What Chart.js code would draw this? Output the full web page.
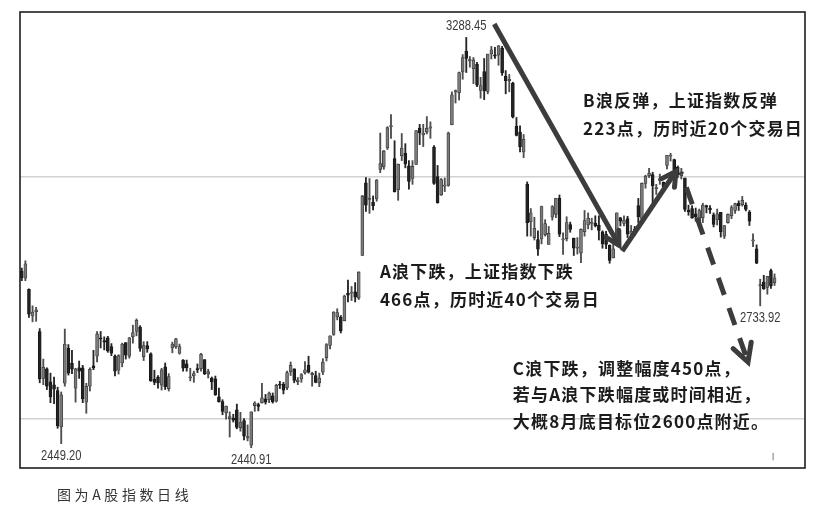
<!DOCTYPE html>
<html>
<head>
<meta charset="utf-8">
<script src="https://cdn.jsdelivr.net/npm/chart.js@4.4.1/dist/chart.umd.min.js"></script>
<style>
html,body{margin:0;padding:0;background:#fff;}
#wrap{position:relative;width:824px;height:516px;overflow:hidden;}
#c{position:absolute;left:0;top:0;}
#caption{position:absolute;left:57px;top:484px;font-family:"Noto Sans CJK SC",sans-serif;font-size:14px;letter-spacing:3.6px;color:#333;line-height:20px;}
</style>
</head>
<body>
<div id="wrap"><canvas id="c" width="824" height="516"></canvas><div id="caption">图为A股指数日线</div></div>
<script>
// ---- data: Shanghai Composite daily candles ----
const dates = [
'2018-09-27','2018-09-28',
'2018-10-08','2018-10-09','2018-10-10','2018-10-11','2018-10-12','2018-10-15','2018-10-16','2018-10-17','2018-10-18','2018-10-19',
'2018-10-22','2018-10-23','2018-10-24','2018-10-25','2018-10-26','2018-10-29','2018-10-30','2018-10-31',
'2018-11-01','2018-11-02','2018-11-05','2018-11-06','2018-11-07','2018-11-08','2018-11-09','2018-11-12','2018-11-13','2018-11-14',
'2018-11-15','2018-11-16','2018-11-19','2018-11-20','2018-11-21','2018-11-22','2018-11-23','2018-11-26','2018-11-27','2018-11-28',
'2018-11-29','2018-11-30',
'2018-12-03','2018-12-04','2018-12-05','2018-12-06','2018-12-07','2018-12-10','2018-12-11','2018-12-12','2018-12-13','2018-12-14',
'2018-12-17','2018-12-18','2018-12-19','2018-12-20','2018-12-21','2018-12-24','2018-12-25','2018-12-26','2018-12-27','2018-12-28',
'2019-01-02','2019-01-03','2019-01-04','2019-01-07','2019-01-08','2019-01-09','2019-01-10','2019-01-11','2019-01-14','2019-01-15',
'2019-01-16','2019-01-17','2019-01-18','2019-01-21','2019-01-22','2019-01-23','2019-01-24','2019-01-25','2019-01-28','2019-01-29',
'2019-01-30','2019-01-31',
'2019-02-01','2019-02-11','2019-02-12','2019-02-13','2019-02-14','2019-02-15','2019-02-18','2019-02-19','2019-02-20','2019-02-21',
'2019-02-22','2019-02-25','2019-02-26','2019-02-27','2019-02-28',
'2019-03-01','2019-03-04','2019-03-05','2019-03-06','2019-03-07','2019-03-08','2019-03-11','2019-03-12','2019-03-13','2019-03-14',
'2019-03-15','2019-03-18','2019-03-19','2019-03-20','2019-03-21','2019-03-22','2019-03-25','2019-03-26','2019-03-27','2019-03-28',
'2019-03-29',
'2019-04-01','2019-04-02','2019-04-03','2019-04-04','2019-04-08','2019-04-09','2019-04-10','2019-04-11','2019-04-12','2019-04-15',
'2019-04-16','2019-04-17','2019-04-18','2019-04-19','2019-04-22','2019-04-23','2019-04-24','2019-04-25','2019-04-26','2019-04-29',
'2019-04-30',
'2019-05-06','2019-05-07','2019-05-08','2019-05-09','2019-05-10','2019-05-13','2019-05-14','2019-05-15','2019-05-16','2019-05-17',
'2019-05-20','2019-05-21','2019-05-22','2019-05-23','2019-05-24','2019-05-27','2019-05-28','2019-05-29','2019-05-30','2019-05-31',
'2019-06-03','2019-06-04','2019-06-05','2019-06-06','2019-06-10','2019-06-11','2019-06-12','2019-06-13','2019-06-14','2019-06-17',
'2019-06-18','2019-06-19','2019-06-20','2019-06-21','2019-06-24','2019-06-25','2019-06-26','2019-06-27','2019-06-28',
'2019-07-01','2019-07-02','2019-07-03','2019-07-04','2019-07-05','2019-07-08','2019-07-09','2019-07-10','2019-07-11','2019-07-12',
'2019-07-15','2019-07-16','2019-07-17','2019-07-18','2019-07-19','2019-07-22','2019-07-23','2019-07-24','2019-07-25','2019-07-26',
'2019-07-29','2019-07-30','2019-07-31',
'2019-08-01','2019-08-02','2019-08-05','2019-08-06','2019-08-07','2019-08-08','2019-08-09','2019-08-12'
];
const opens = [
2806,2791,2768,2713,2722,2681,2584,2604,2577,2571,
2559,2484,2574,2646,2615,2564,2606,2606,2535,2568,
2610,2630,2668,2662,2668,2650,2630,2601,2616,2658,
2630,2670,2681,2690,2629,2652,2635,2582,2587,2570,
2608,2563,2647,2649,2636,2622,2614,2585,2589,2604,
2604,2623,2593,2585,2583,2546,2536,2513,2501,2502,
2519,2482,2497,2461,2446,2528,2530,2534,2542,2540,
2548,2537,2571,2572,2565,2598,2604,2577,2583,2596,
2611,2592,2590,2575,2597,2627,2652,2675,2711,2711,
2703,2760,2760,2763,2750,2838,2988,2954,2948,2955,
3016,3021,3060,3104,3038,2974,3044,3049,3023,2997,
3026,3101,3087,3093,3101,3062,3001,2963,2981,2983,
3108,3176,3174,3217,3260,3240,3224,3233,3179,3218,
3177,3255,3252,3252,3266,3208,3199,3194,3105,3093,
3052,2985,2908,2875,2871,2872,2881,2861,2917,2923,
2956,2870,2873,2902,2874,2853,2843,2887,2901,2904,
2905,2901,2887,2882,2859,2833,2860,2916,2904,2914,
2882,2891,2941,2913,2987,3003,3005,2976,2993,2989,
3024,3043,3036,3020,3003,2998,2932,2935,2924,2910,
2916,2941,2936,2922,2912,2927,2878,2906,2920,2931,
2946,2943,2942,2927,2868,2852,2775,2783,2772,2807,
2782
];
const highs = [
2812,2827,2769,2734,2731,2687,2624,2606,2595,2587,
2566,2556,2686,2654,2642,2605,2620,2611,2574,2606,
2642,2681,2681,2670,2671,2656,2633,2633,2657,2658,
2669,2694,2707,2693,2660,2660,2637,2601,2590,2605,
2616,2594,2659,2667,2655,2623,2622,2605,2599,2614,
2636,2623,2603,2587,2589,2564,2540,2527,2515,2510,
2531,2514,2501,2488,2515,2536,2533,2574,2551,2556,
2554,2572,2578,2576,2599,2618,2604,2586,2594,2619,
2630,2597,2599,2595,2625,2656,2672,2722,2728,2714,
2756,2787,2774,2782,2804,2962,2999,2997,2961,2995,
3091,3055,3104,3129,3075,3027,3090,3069,3034,3034,
3096,3109,3109,3125,3114,3065,3024,2997,2998,3093,
3176,3180,3217,3253,3288.45,3249,3247,3237,3206,3245,
3254,3270,3268,3272,3270,3220,3212,3196,3123,3106,
3088,2990,2935,2917,2889,2940,2912,2898,2941,2956,
2963,2885,2918,2907,2874,2875,2893,2931,2926,2915,
2920,2920,2889,2888,2860,2867,2926,2917,2920,2919,
2900,2898,2956,2988,3004,3018,3010,2985,3006,2990,
3045,3049,3037,3023,3018,2998,2942,2941,2936,2934,
2946,2942,2941,2926,2934,2927,2900,2924,2941,2946,
2951,2960,2947,2931,2883,2860,2789,2797,2795,2810,
2800
];
const lows = [
2786,2786,2710,2701,2702,2575,2571,2561,2534,2532,
2481,2449.20,2568,2591,2594,2535,2584,2534,2512,2558,
2602,2618,2647,2643,2638,2631,2589,2593,2608,2624,
2626,2657,2672,2640,2621,2638,2578,2571,2564,2560,
2561,2558,2637,2646,2634,2599,2599,2579,2576,2596,
2599,2592,2585,2561,2549,2535,2509,2500,2463,2494,
2480,2475,2457,2455,2440.91,2516,2517,2533,2531,2534,
2533,2535,2563,2552,2561,2590,2575,2571,2576,2593,
2595,2568,2575,2567,2592,2620,2645,2673,2705,2678,
2703,2742,2745,2742,2747,2838,2929,2925,2932,2950,
3009,3016,3057,3080,2969,2952,3034,3019,2975,2985,
3026,3067,3063,3089,3080,2985,2946,2962,2970,2981,
3108,3153,3159,3202,3216,3227,3193,3187,3163,3160,
3172,3244,3245,3231,3210,3172,3176,3122,3085,3052,
3040,2878,2878,2870,2838,2862,2878,2861,2911,2916,
2877,2840,2868,2886,2838,2841,2823,2878,2893,2891,
2897,2870,2853,2852,2822,2833,2859,2899,2899,2875,
2872,2879,2905,2913,2977,2999,2937,2964,2985,2970,
3017,3033,3004,2999,2996,2929,2921,2915,2909,2905,
2906,2926,2925,2897,2901,2876,2873,2905,2914,2925,
2931,2940,2930,2900,2856,2821,2733.92,2768,2758,2770,
2776
];
const closes = [
2792,2821,2717,2721,2726,2583,2607,2568,2546,2562,
2486,2550,2655,2595,2603,2604,2599,2542,2568,2603,
2606,2676,2665,2659,2641,2636,2599,2631,2655,2632,
2668,2679,2704,2646,2652,2645,2579,2576,2575,2602,
2567,2588,2655,2666,2650,2605,2606,2585,2594,2602,
2634,2594,2598,2577,2550,2536,2516,2527,2505,2498,
2483,2494,2465,2464,2515,2533,2526,2544,2535,2554,
2536,2570,2570,2560,2596,2611,2580,2581,2592,2602,
2597,2594,2576,2585,2618,2654,2672,2721,2720,2682,
2754,2756,2761,2752,2804,2961,2942,2954,2941,2994,
3028,3054,3102,3106,2970,3027,3060,3027,2991,3022,
3096,3091,3091,3101,3104,2987,2947,2995,2982,3091,
3170,3177,3216,3247,3245,3240,3242,3190,3189,3178,
3254,3263,3250,3271,3215,3199,3202,3124,3086,3063,
3078,2906,2926,2894,2851,2939,2904,2884,2939,2956,
2882,2871,2906,2892,2853,2853,2892,2910,2915,2906,
2899,2890,2862,2861,2828,2852,2926,2909,2911,2882,
2888,2890,2918,2987,3002,3008,2982,2976,2997,2979,
3045,3044,3015,3005,3011,2933,2928,2915,2918,2931,
2942,2938,2932,2902,2924,2887,2900,2923,2937,2945,
2941,2952,2933,2909,2868,2822,2778,2769,2795,2775,
2792
];
const emptySlots = 8;                 // blank trading-day slots after the last candle
const gridValues = [2500, 3000];      // the two light horizontal reference lines
const yRange = [2399, 3341];

// extreme value labels (index, value, text)
const extremeLabels = [
  {i:124, v:3288.45, text:'3288.45', pos:'above'},
  {i:11,  v:2449.20, text:'2449.20', pos:'below'},
  {i:64,  v:2440.91, text:'2440.91', pos:'below'},
  {i:206, v:2733.92, text:'2733.92', pos:'below'}
];
// wave arrows in data coordinates [index, value]
const waveArrows = [
  {from:[131.8, 3316], to:[166.6, 2859], dashed:false, head:15},
  {from:[167.5, 2847], to:[182.5, 3012], dashed:false, head:16},
  {from:[183.9, 3010], to:[202.6, 2618], dashed:true,  head:20}
];
// annotation text blocks, anchored at [index, value] of first line
const notes = [
  {at:[99.9, 2804],  step:-58, lines:['A浪下跌，上证指数下跌','466点，历时近40个交易日']},
  {at:[156.6, 3159], step:-58, lines:['B浪反弹，上证指数反弹','223点，历时近20个交易日']},
  {at:[137.0, 2605], step:-55, lines:['C浪下跌，调整幅度450点，','若与A浪下跌幅度或时间相近，','大概8月底目标位2600点附近。']}
];

// ---- build chart ----
const labels = dates.concat(Array(emptySlots).fill(''));
const UP = '#7a7a7a', DOWN = '#222222';
const isUp = i => closes[i] >= opens[i];

const annotate = {
  id:'annotate',
  afterDatasetsDraw(chart){
    const {ctx, chartArea:a, scales:{x, y}} = chart;
    const px = p => [x.getPixelForValue(p[0]), y.getPixelForValue(p[1])];
    ctx.save();
    // small marker near the bottom right
    ctx.strokeStyle = '#777'; ctx.lineWidth = 1;
    ctx.beginPath();
    ctx.moveTo(x.getPixelForValue(209.6), y.getPixelForValue(2430));
    ctx.lineTo(x.getPixelForValue(209.6), y.getPixelForValue(2415));
    ctx.stroke();

    // extreme labels (slightly condensed)
    ctx.font = '14px "Liberation Sans", sans-serif';
    ctx.fillStyle = '#3a3a3a';
    ctx.textAlign = 'center'; ctx.textBaseline = 'middle';
    extremeLabels.forEach(l => {
      const [cx, cy] = px([l.i, l.v]);
      const ty = l.pos === 'above' ? cy - 11 : cy + 12;
      ctx.save();
      ctx.translate(cx, ty);
      ctx.scale(0.8, 1);
      ctx.fillText(l.text, 0, 0);
      ctx.restore();
    });

    // arrows
    ctx.strokeStyle = '#3c3c3c'; ctx.lineWidth = 5;
    waveArrows.forEach(w => {
      const [x0, y0] = px(w.from), [x1, y1] = px(w.to);
      ctx.lineCap = 'butt';
      ctx.setLineDash(w.dashed ? [18, 14] : []);
      ctx.lineDashOffset = w.dashed ? 16 : 0;
      ctx.beginPath(); ctx.moveTo(x0, y0); ctx.lineTo(x1, y1); ctx.stroke();
      ctx.setLineDash([]);
      const ang = Math.atan2(y1 - y0, x1 - x0);
      ctx.lineCap = 'round';
      ctx.beginPath();
      ctx.moveTo(x1 + w.head * Math.cos(ang + Math.PI - 0.5), y1 + w.head * Math.sin(ang + Math.PI - 0.5));
      ctx.lineTo(x1, y1);
      ctx.lineTo(x1 + w.head * Math.cos(ang + Math.PI + 0.5), y1 + w.head * Math.sin(ang + Math.PI + 0.5));
      ctx.stroke();
    });

    // annotation texts
    ctx.font = 'bold 17px "Noto Sans CJK SC", sans-serif';
    ctx.fillStyle = '#1c1c1c';
    ctx.textAlign = 'left'; ctx.textBaseline = 'middle';
    try { ctx.letterSpacing = '1.2px'; } catch(e) {}
    notes.forEach(n => {
      n.lines.forEach((t, k) => {
        const [tx, ty] = px([n.at[0], n.at[1] + n.step * k]);
        ctx.fillText(t, tx, ty);
      });
    });
    try { ctx.letterSpacing = '0px'; } catch(e) {}

    // frame
    ctx.strokeStyle = '#1e1e1e'; ctx.lineWidth = 1.6;
    ctx.strokeRect(a.left, a.top, a.right - a.left, a.bottom - a.top);
    ctx.restore();
  }
};

new Chart(document.getElementById('c'), {
  type: 'bar',
  data: {
    labels,
    datasets: [
      {
        label: 'body',
        data: opens.map((o, i) => [o, closes[i]]),
        backgroundColor: c => isUp(c.dataIndex) ? UP : DOWN,
        borderColor: c => isUp(c.dataIndex) ? '#3c3c3c' : '#161616',
        borderWidth: 0.8,
        borderSkipped: false,
        barThickness: 3.0,
        minBarLength: 1.2,
        grouped: false,
        order: 1
      },
      {
        label: 'wick',
        data: lows.map((l, i) => [l, highs[i]]),
        backgroundColor: c => isUp(c.dataIndex) ? '#4e4e4e' : '#262626',
        borderWidth: 0,
        barThickness: 1.2,
        grouped: false,
        order: 2
      }
    ]
  },
  options: {
    responsive: false,
    animation: false,
    devicePixelRatio: 1,
    layout: {padding: {left: 20, top: 12, right: 19, bottom: 48}},
    plugins: {legend: {display: false}, tooltip: {enabled: false}},
    scales: {
      x: {
        type: 'category', offset: true,
        grid: {display: false, drawTicks: false},
        ticks: {display: false},
        border: {display: false}
      },
      y: {
        min: yRange[0], max: yRange[1],
        afterBuildTicks: s => { s.ticks = gridValues.map(v => ({value: v})); },
        grid: {color: '#d2d2d2', lineWidth: 1.6, drawTicks: false},
        ticks: {display: false},
        border: {display: false}
      }
    }
  },
  plugins: [annotate]
});
</script>
</body>
</html>
